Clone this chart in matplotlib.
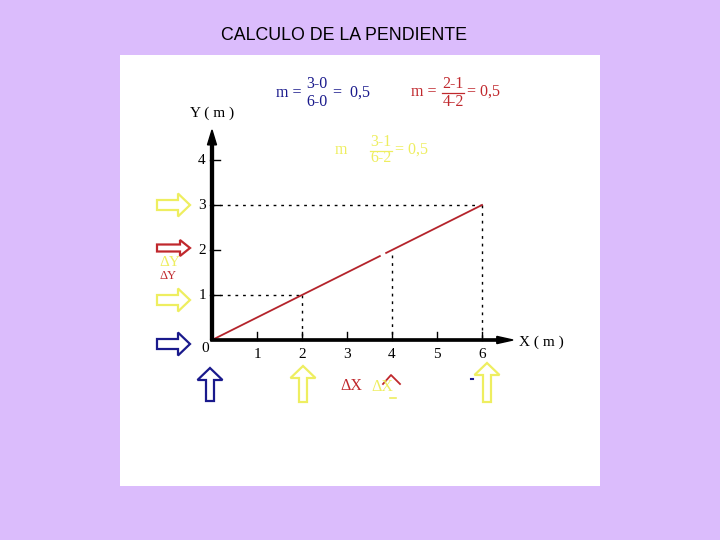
import matplotlib
matplotlib.use("Agg")
import matplotlib.pyplot as plt
from matplotlib.patches import Rectangle, FancyArrow

# ---- data ----
title = "CALCULO DE LA PENDIENTE"
x_ticks = [1, 2, 3, 4, 5, 6]
y_ticks = [1, 2, 3, 4]
line_x = [0, 3.73, 3.87, 6]
line_y = [0, 1.865, 1.935, 3]
pt_a = (2, 1)
pt_b = (4, 2)
pt_c = (6, 3)

BG = "#dbbcfc"
BLUE = "#1a1a8c"
RED = "#c0282d"
LINE_RED = "#b4232b"
YELLOW = "#eeee60"
SERIF = ["Liberation Serif", "DejaVu Serif"]

fig = plt.figure(figsize=(7.2, 5.4), dpi=100, facecolor=BG)
ax = fig.add_axes([0, 0, 1, 1])
ax.set_xlim(-212 / 45, 508 / 45)
ax.set_ylim(-200 / 45, 340 / 45)
ax.axis("off")
ax.set_facecolor(BG)

def X(px):
    return (px - 212) / 45.0

def Y(py):
    return (340 - py) / 45.0

# white panel
ax.add_patch(Rectangle((X(120), Y(486)), X(600) - X(120), Y(55) - Y(486),
                       facecolor="white", edgecolor="none", zorder=0))

fig.text(344 / 720, 1 - 35 / 540, title, ha="center", va="center",
         fontsize=12.8, family="Liberation Sans", color="black")

# dashed guides
ds = (0, (2, 3.5))
ax.plot([0, pt_c[0]], [pt_c[1], pt_c[1]], color="black", lw=1, ls=ds, zorder=2)
ax.plot([pt_c[0], pt_c[0]], [pt_c[1], 0], color="black", lw=1, ls=ds, zorder=2)
ax.plot([0, pt_a[0]], [pt_a[1], pt_a[1]], color="black", lw=1, ls=ds, zorder=2)
ax.plot([pt_a[0], pt_a[0]], [pt_a[1], 0], color="black", lw=1, ls=ds, zorder=2)
ax.plot([pt_b[0], pt_b[0]], [pt_b[1] - 0.11, 0], color="black", lw=1, ls=ds, zorder=2)

# the line
ax.plot(line_x[:2], line_y[:2], color=LINE_RED, lw=1.3, zorder=3)
ax.plot(line_x[2:], line_y[2:], color=LINE_RED, lw=1.3, zorder=3)

# axes with arrowheads
ax.add_patch(FancyArrow(0, 0, 0, Y(130), width=0.065, head_width=0.2,
                        head_length=0.33, length_includes_head=True,
                        color="black", zorder=4))
ax.add_patch(FancyArrow(-0.03, 0, X(513) + 0.03, 0, width=0.05, head_width=0.16,
                        head_length=0.36, length_includes_head=True,
                        color="black", zorder=4))

for t in y_ticks:
    ax.plot([-0.04, 0.18], [t, t], color="black", lw=1, zorder=4)
    ax.text(X(202), t - 0.02, str(t), ha="center", va="center",
            fontsize=11, family=SERIF)
for t in x_ticks:
    ax.plot([t, t], [0, 0.17], color="black", lw=1, zorder=4)
    ax.text(t, Y(354), str(t), ha="center", va="center",
            fontsize=11, family=SERIF)
ax.text(X(205), Y(349), "0", ha="center", va="center", fontsize=11, family=SERIF)

ax.text(X(212), Y(113), "Y ( m )", ha="center", va="center", fontsize=11, family=SERIF)
ax.text(X(519), Y(342), "X ( m )", ha="left", va="center", fontsize=11, family=SERIF)

# formulas
def formula(mx, my, lead, num, den, nx, tail, tx, color, bar=True, ny=8.5):
    ax.text(X(mx), Y(my), lead, ha="left", va="center", fontsize=11.5,
            family=SERIF, color=color)
    ax.text(X(nx), Y(my - ny), num, ha="center", va="center", fontsize=11.5,
            family=SERIF, color=color)
    ax.text(X(nx), Y(my + ny + 1), den, ha="center", va="center", fontsize=11.5,
            family=SERIF, color=color)
    if bar:
        ax.plot([X(nx - 11), X(nx + 11)], [Y(my + 1), Y(my + 1)],
                color=color, lw=0.9)
    ax.text(X(tx), Y(my), tail, ha="left", va="center", fontsize=11.5,
            family=SERIF, color=color)

formula(276, 93, "m =", "3-0", "6-0", 317, "=  0,5", 333, BLUE, bar=False)
formula(411, 92, "m =", "2-1", "4-2", 453, "= 0,5", 467, RED)
formula(335, 150, "m", "3-1", "6-2", 381, "= 0,5", 395, YELLOW, ny=7.5)

# hollow block arrows
def right_arrow(py, color, w=10, hw=23, hl=12):
    ax.add_patch(FancyArrow(X(157), Y(py), 33 / 45, 0, width=w / 45,
                            head_width=hw / 45, head_length=hl / 45,
                            length_includes_head=True, fill=False,
                            edgecolor=color, lw=1.6, zorder=5))

def up_arrow(px, ptail, ptip, color, w=8, hw=25, hl=12):
    ax.add_patch(FancyArrow(X(px), Y(ptail), 0, (ptail - ptip) / 45,
                            width=w / 45, head_width=hw / 45, head_length=hl / 45,
                            length_includes_head=True, fill=False,
                            edgecolor=color, lw=1.6, zorder=5))

right_arrow(205, YELLOW)
right_arrow(248, RED, w=7, hw=16, hl=10)
right_arrow(300, YELLOW)
right_arrow(344, BLUE)

up_arrow(210, 401, 368, BLUE)
up_arrow(303, 402, 366, YELLOW)
up_arrow(487, 402, 363, YELLOW)

# red chevron near x=4
ax.plot([X(383), X(391), X(400)], [Y(384), Y(375), Y(384)], color=RED, lw=1.3)
ax.plot([X(471), X(473)], [Y(379), Y(379)], color=BLUE, lw=1.5)

# delta labels
ax.text(X(168), Y(276), "ΔY", ha="center", va="center", fontsize=9,
        family=SERIF, color=RED)
ax.text(X(170), Y(262), "ΔY", ha="center", va="center", fontsize=11,
        family=SERIF, color=YELLOW)
ax.text(X(351), Y(386), "ΔX", ha="center", va="center", fontsize=11.5,
        family=SERIF, color=RED)
ax.text(X(382), Y(387), "ΔX", ha="center", va="center", fontsize=11.5,
        family=SERIF, color=YELLOW)
ax.plot([X(390), X(396)], [Y(398), Y(398)], color=YELLOW, lw=1.2)

fig.savefig("out.png", dpi=100, facecolor=BG)
